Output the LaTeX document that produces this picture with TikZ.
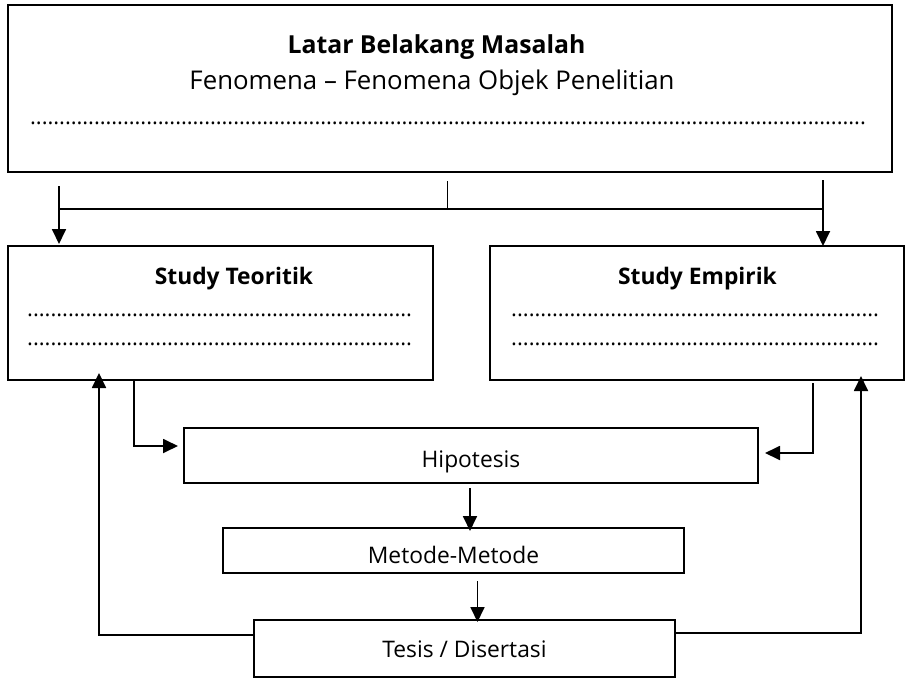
\documentclass[tikz,border=0pt]{standalone}
\usepackage{fontspec}
\setmainfont{Open Sans}
\usetikzlibrary{arrows.meta}

% a row of evenly spaced periods, #1 wide
\newcommand{\dotrow}[1]{\makebox[#1]{\xleaders\hbox to 5.8pt{\hss.\hss}\hfill}}

\begin{document}
\begin{tikzpicture}[x=1pt,y=-1pt,
  box/.style={draw=black, line width=2pt, rectangle, inner sep=0pt},
  txt/.style={inner sep=0pt, anchor=base, font=\fontsize{25.8}{30}\selectfont},
  head/.style={inner sep=0pt, anchor=base, font=\fontsize{24.8}{30}\selectfont\bfseries},
  sub/.style={inner sep=0pt, anchor=base, font=\fontsize{22.8}{27}\selectfont\bfseries},
  label/.style={inner sep=0pt, anchor=base, font=\fontsize{22.8}{27}\selectfont},
  dots/.style={inner sep=0pt, anchor=base west, font=\fontsize{22}{26}\selectfont},
  link/.style={line width=1.8pt, line cap=rect},
  arr/.style={line width=1.8pt, -{Triangle[length=15pt,width=14pt]}}
]
\useasboundingbox (0,0) rectangle (906,678);

% boxes
\node[box, minimum width=884pt, minimum height=167pt] (top) at (450,88.5) {};
\node[box, minimum width=425pt, minimum height=134pt] (teo) at (220.5,313) {};
\node[box, minimum width=414pt, minimum height=134pt] (emp) at (697,313) {};
\node[box, minimum width=574pt, minimum height=55pt] (hip) at (471,455.5) {};
\node[box, minimum width=461pt, minimum height=45pt] (met) at (453.5,550.5) {};
\node[box, minimum width=421pt, minimum height=57pt] (tes) at (464.5,648.5) {};

% texts of the top box
\node[head] (t1) at (436.5,53) {Latar Belakang Masalah};
\node[txt] (t2) at (432,89) {Fenomena – Fenomena Objek Penelitian};
\node[dots] (t3) at (30,124) {\dotrow{836pt}};

% study boxes
\node[sub] (s1) at (234,284) {Study Teoritik};
\node[dots] (s1a) at (27,316) {\dotrow{385pt}};
\node[dots] (s1b) at (27,345) {\dotrow{385pt}};
\node[sub] (s2) at (697.5,284) {Study Empirik};
\node[dots] (s2a) at (511,316) {\dotrow{368pt}};
\node[dots] (s2b) at (511,345) {\dotrow{368pt}};

% lower boxes
\node[label] (l1) at (471,467) {Hipotesis};
\node[label] (l2) at (453.5,563) {Metode-Metode};
\node[label] (l3) at (464.5,657) {Tesis / Disertasi};

% split from the top box to both study boxes
\coordinate (jc) at (447,181);
\coordinate (sl) at (59,186);
\coordinate (sr) at (823,180);
\draw[line width=1pt] (jc) -- (jc |- 0,209);
\draw[link] (sl |- 0,209) -- (sr |- 0,209);
\draw[arr] (sl) -- ([yshift=1pt]sl |- teo.north);
\draw[arr] (sr) -- ([yshift=-1pt]sr |- emp.north);

% study boxes into the hypothesis
\coordinate (ta) at (134,380);
\coordinate (ea) at (813,383);
\draw[arr] (ta) -- (ta |- 0,446) -- ([xshift=-5pt]hip.west |- 0,446);
\draw[arr] (ea) -- (ea |- 0,453) -- ([xshift=6pt]hip.east |- 0,453);

% down the middle column
\coordinate (h1) at (470,488);
\coordinate (m1) at (477.5,581);
\draw[arr] (h1) -- ([yshift=-4pt]h1 |- met.north);
\draw[arr] (m1) -- ([yshift=-3pt]m1 |- tes.north);

% feedback from the thesis to both study boxes
\coordinate (fl) at (99,635);
\coordinate (fr) at (861,633);
\draw[arr] (tes.west |- fl) -- (fl) -- ([yshift=8pt]fl |- teo.south);
\draw[arr] (tes.east |- fr) -- (fr) -- ([yshift=5pt]fr |- emp.south);
\end{tikzpicture}
\end{document}
